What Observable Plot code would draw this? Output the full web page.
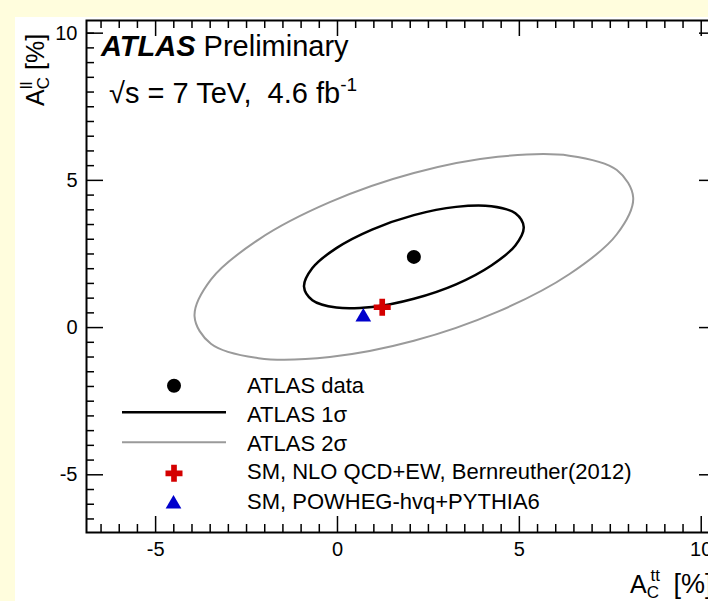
<!DOCTYPE html>
<html><head><meta charset="utf-8">
<script src="https://cdn.jsdelivr.net/npm/d3@7"></script>
<script src="https://cdn.jsdelivr.net/npm/@observablehq/plot@0.6"></script>
<style>
html,body{margin:0;padding:0;}
body{width:708px;height:601px;overflow:hidden;position:relative;background:#fffddd;font-family:"Liberation Sans",Arial,Helvetica,sans-serif;}
#panel{position:absolute;left:15px;top:17px;width:720px;height:600px;background:#ffffff;}
#chart{position:absolute;left:0;top:0;}
</style></head><body>
<div id="panel"></div><div id="chart"></div>
<script>
// Measured points (A_C^tt [%], A_C^ll [%])
const atlasData = [{x: 2.1, y: 2.4}];
const smNLO = [{x: 1.23, y: 0.69}];
const smPowheg = [{x: 0.71, y: 0.36}];

// 1 sigma contour
const sigma1X = [5.12, 4.89, 4.23, 3.26, 2.10, 0.95, -0.03, -0.69, -0.92, -0.69, -0.03, 0.95, 2.10, 3.26, 4.23, 4.89];
const sigma1Y = [3.41, 3.88, 4.12, 4.10, 3.82, 3.33, 2.70, 2.02, 1.39, 0.93, 0.68, 0.70, 0.98, 1.47, 2.11, 2.79];
// 2 sigma contour
const sigma2X = [8.13, 7.68, 6.37, 4.41, 2.10, -0.21, -2.17, -3.48, -3.93, -3.48, -2.17, -0.21, 2.10, 4.41, 6.37, 7.68];
const sigma2Y = [4.41, 5.35, 5.84, 5.80, 5.25, 4.26, 2.99, 1.63, 0.39, -0.55, -1.04, -1.00, -0.45, 0.54, 1.81, 3.17];

const xMajor = [-5, 0, 5, 10];
const yMajor = [-5, 0, 5, 10];
const xMinor = [-6.5, -6, -5.5, -4.5, -4, -3.5, -3, -2.5, -2, -1.5, -1, -0.5, 0.5, 1, 1.5, 2, 2.5, 3, 3.5, 4, 4.5, 5.5, 6, 6.5, 7, 7.5, 8, 8.5, 9, 9.5];
const yMinor = [-6.5, -6, -5.5, -4.5, -4, -3.5, -3, -2.5, -2, -1.5, -1, -0.5, 0.5, 1, 1.5, 2, 2.5, 3, 3.5, 4, 4.5, 5.5, 6, 6.5, 7, 7.5, 8, 8.5, 9, 9.5, 10];

const legendLabels = ["ATLAS data", "ATLAS 1σ", "ATLAS 2σ", "SM, NLO QCD+EW, Bernreuther(2012)", "SM, POWHEG-hvq+PYTHIA6"];

const contour1 = sigma1X.map((x, i) => ({x, y: sigma1Y[i]}));
const contour2 = sigma2X.map((x, i) => ({x, y: sigma2Y[i]}));

const W = 716, H = 601, mL = 86, mR = 0, mT = 20, mB = 69;
const fw = W - mL - mR, fh = H - mT - mB;
const fmt = d => String(d);
const tickStroke = "#000";

const plot = Plot.plot({
  width: W, height: H,
  marginLeft: mL, marginRight: mR, marginTop: mT, marginBottom: mB,
  style: {background: "transparent", maxWidth: "none", overflow: "visible", fontFamily: "Liberation Sans, Arial, sans-serif", fontSize: "20px", color: "#000"},
  x: {domain: [-6.9, 10.42]},
  y: {domain: [-6.96, 10.43]},
  marks: [
    Plot.line(contour2, {x: "x", y: "y", curve: "catmull-rom-closed", stroke: "#9a9a9a", strokeWidth: 2}),
    Plot.line(contour1, {x: "x", y: "y", curve: "catmull-rom-closed", stroke: "#000", strokeWidth: 2.5}),
    Plot.dot(atlasData, {x: "x", y: "y", r: 7, fill: "#000", stroke: "none"}),
    Plot.dot(smPowheg, {x: "x", y: "y", symbol: "triangle", r: 5.83, fill: "#0000cc", stroke: "none"}),
    Plot.dot(smNLO, {x: "x", y: "y", symbol: "cross", r: 7.15, fill: "#d40000", stroke: "none"}),
    // inward ticks, ROOT style
    Plot.ruleX(xMajor, {insetTop: fh - 16, stroke: tickStroke, strokeWidth: 1.5}),
    Plot.ruleX(xMajor, {insetBottom: fh - 16, stroke: tickStroke, strokeWidth: 1.5}),
    Plot.ruleX(xMinor, {insetTop: fh - 8, stroke: tickStroke, strokeWidth: 1.5}),
    Plot.ruleX(xMinor, {insetBottom: fh - 8, stroke: tickStroke, strokeWidth: 1.5}),
    Plot.ruleY(yMajor, {insetRight: fw - 17, stroke: tickStroke, strokeWidth: 1.5}),
    Plot.ruleY(yMajor, {insetLeft: fw - 17, stroke: tickStroke, strokeWidth: 1.5}),
    Plot.ruleY(yMinor, {insetRight: fw - 8, stroke: tickStroke, strokeWidth: 1.5}),
    Plot.ruleY(yMinor, {insetLeft: fw - 8, stroke: tickStroke, strokeWidth: 1.5}),
    Plot.frame({stroke: "#000", strokeWidth: 2}),
    Plot.axisX({ticks: xMajor, tickSize: 0, tickPadding: 9, tickFormat: fmt, label: null, fontSize: 20}),
    Plot.axisY({ticks: yMajor, tickSize: 0, tickPadding: 9, tickFormat: fmt, label: null, fontSize: 20})
  ]
});
document.getElementById("chart").appendChild(plot);

const svg = d3.select(plot);
const ff = "Liberation Sans, Arial, sans-serif";

// Axis titles
const yt = svg.append("text").attr("transform", "translate(44,106) rotate(-90)")
  .attr("font-size", 25).attr("font-family", ff).attr("text-anchor", "start").attr("fill", "#000");
yt.append("tspan").text("A");
yt.append("tspan").attr("font-size", 17).attr("dy", 5).text("C");
yt.append("tspan").attr("font-size", 17).attr("dx", -12.3).attr("dy", -17).text("ll");
yt.append("tspan").attr("dx", 4.8).attr("dy", 12).text(" [%]");

const xt = svg.append("text").attr("x", 630).attr("y", 593)
  .attr("font-size", 25).attr("font-family", ff).attr("text-anchor", "start").attr("fill", "#000");
xt.append("tspan").text("A");
xt.append("tspan").attr("font-size", 17).attr("dy", 5).text("C");
xt.append("tspan").attr("font-size", 17).attr("dx", -8.5).attr("dy", -17).text("tt");
xt.append("tspan").attr("font-size", 27).attr("dx", 6).attr("dy", 12).text(" [%]");

// ATLAS label
const t1 = svg.append("text").attr("x", 101).attr("y", 56).attr("font-size", 29).attr("font-family", ff)
  .attr("text-anchor", "start").attr("fill", "#000");
t1.append("tspan").attr("font-weight", "bold").attr("font-style", "italic").text("ATLAS");
t1.append("tspan").text(" Preliminary");

const t2 = svg.append("text").attr("x", 109).attr("y", 103).attr("font-size", 29).attr("font-family", ff)
  .attr("text-anchor", "start").attr("fill", "#000").style("white-space", "pre");
t2.append("tspan").text("√s = 7 TeV,  4.6 fb");
t2.append("tspan").attr("font-size", 19).attr("dy", -12).text("-1");

// Legend
const lg = svg.append("g").attr("font-family", ff).attr("font-size", 22).attr("fill", "#000").attr("text-anchor", "start");
const textBase = [393, 422, 451, 479, 509];
legendLabels.forEach((s, i) => {
  lg.append("text").attr("x", 247).attr("y", textBase[i]).attr("text-anchor", "start").text(s);
});
lg.append("circle").attr("cx", 174).attr("cy", 385.7).attr("r", 7).attr("fill", "#000");
lg.append("line").attr("x1", 122).attr("x2", 226).attr("y1", 412.3).attr("y2", 412.3).attr("stroke", "#000").attr("stroke-width", 2.5);
lg.append("line").attr("x1", 122).attr("x2", 226).attr("y1", 442.3).attr("y2", 442.3).attr("stroke", "#9a9a9a").attr("stroke-width", 2);
lg.append("path").attr("transform", "translate(174,473.3)")
  .attr("d", d3.symbol(d3.symbolCross, Math.PI * 7.15 * 7.15)()).attr("fill", "#d40000");
lg.append("path").attr("transform", "translate(173.5,504)")
  .attr("d", d3.symbol(d3.symbolTriangle, Math.PI * 5.83 * 5.83)()).attr("fill", "#0000cc");
</script>
</body></html>
